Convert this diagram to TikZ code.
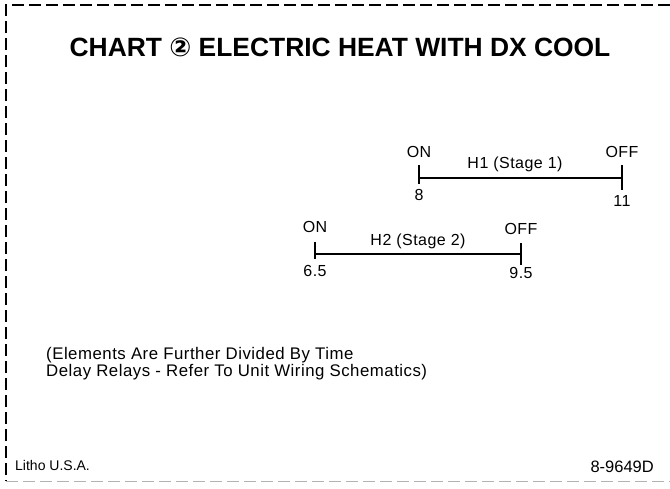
\documentclass[tikz,border=0pt]{standalone}
\usepackage{fontspec}
\setmainfont{Liberation Sans}
\newfontfamily\chartfont[LetterSpace=3]{Liberation Sans}
\newfontfamily\symfont{DejaVu Sans}
\usetikzlibrary{positioning}

\begin{document}
\begin{tikzpicture}[x=1pt, y=-1pt,
  frame/.style={line width=1.4pt, dash pattern=on 12pt off 5pt},
  bar/.style={line width=1.5pt},
  lbl/.style={font=\chartfont\fontsize{16}{18}\selectfont, inner sep=0pt},
  note/.style={font=\chartfont\fontsize{16.8}{17}\selectfont, align=left, inner sep=0pt}
]
  \useasboundingbox (0,0) rectangle (670,488);

  % dashed frame
  \draw[frame] (670,5) -- (6,5) -- (6,481);
  \draw[frame, line width=1pt, gray!60] (6,481) -- (670,481);

  \node[font=\fontsize{26.4}{30}\selectfont\bfseries, anchor=base, inner sep=0pt] (title) at (340,56.5)
    {CHART {\symfont\bfseries\fontsize{26}{30}\selectfont ②} ELECTRIC HEAT WITH DX COOL};

  % stage 1
  \coordinate (h1on) at (419,178);
  \coordinate (h1off) at (622,178);
  \draw[bar] (h1on) -- (h1off);
  \draw[bar] (419,165) coordinate (h1ontop) -- (419,184) coordinate (h1onbot);
  \draw[bar] (622,165) coordinate (h1offtop) -- (622,190) coordinate (h1offbot);
  \node[lbl, above=7pt of h1ontop] (on1) {ON};
  \node[lbl, above=7pt of h1offtop] (off1) {OFF};
  \node[lbl, below=5pt of h1onbot] (val8) {8};
  \node[lbl, below=5pt of h1offbot] (val11) {11};
  \node[lbl, anchor=base] (stage1) at (515,168) {H1 (Stage 1)};

  % stage 2
  \coordinate (h2on) at (315,254);
  \coordinate (h2off) at (521,254);
  \draw[bar] (h2on) -- (h2off);
  \draw[bar] (315,242) coordinate (h2ontop) -- (315,259) coordinate (h2onbot);
  \draw[bar] (521,243) coordinate (h2offtop) -- (521,265) coordinate (h2offbot);
  \node[lbl, above=9pt of h2ontop] (on2) {ON};
  \node[lbl, above=8pt of h2offtop] (off2) {OFF};
  \node[lbl, below=6pt of h2onbot] (val65) {6.5};
  \node[lbl, below=2pt of h2offbot] (val95) {9.5};
  \node[lbl, anchor=base] (stage2) at (418,245) {H2 (Stage 2)};

  \node[note, anchor=base west] (delay) at (46,376)
    {(Elements Are Further Divided By Time\\Delay Relays - Refer To Unit Wiring Schematics)};

  \node[font=\fontsize{14}{16}\selectfont, anchor=base west, inner sep=0pt] (litho) at (15,470) {Litho U.S.A.};
  \node[font=\fontsize{16.5}{18}\selectfont, anchor=base east, inner sep=0pt] (partno) at (654,472) {8-9649D};
\end{tikzpicture}
\end{document}
